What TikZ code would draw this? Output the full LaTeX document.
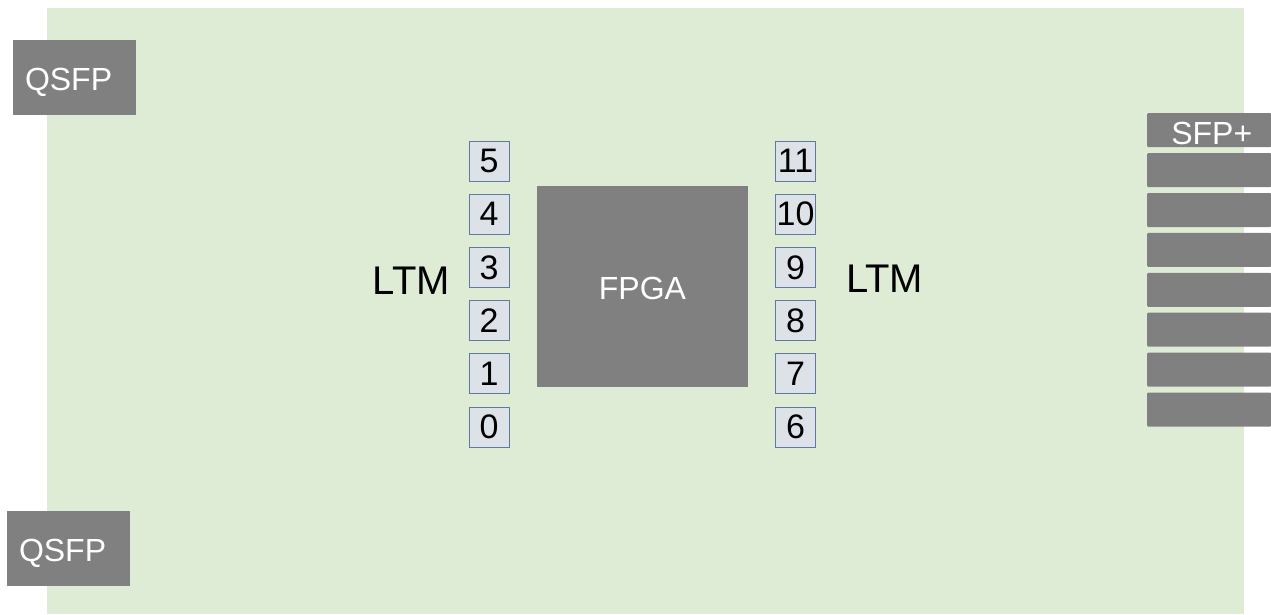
\documentclass[tikz,border=0pt]{standalone}
\usepackage{fontspec}
\setmainfont{Liberation Sans}
\usetikzlibrary{positioning}
\definecolor{BoardGreen}{RGB}{223,236,213}
\definecolor{ChipGray}{RGB}{128,128,128}
\definecolor{PinFill}{RGB}{221,225,232}
\definecolor{PinEdge}{RGB}{96,122,158}
\tikzset{
  hw/chip/.style={
    fill=ChipGray,
    draw=none,
    text=white,
    align=center,
    inner sep=0pt,
    font=\fontsize{32}{32}\selectfont
  },
  hw/cage/.style={
    fill=ChipGray,
    draw=none,
    rounded corners=1pt,
    anchor=north west,
    minimum width=124pt,
    minimum height=34pt,
    inner sep=0pt
  },
  hw/pin/.style={
    fill=PinFill,
    draw=PinEdge,
    line width=1pt,
    minimum size=40pt,
    inner sep=0pt,
    font=\fontsize{34}{34}\selectfont
  },
  hw/label/.style={font=\fontsize{40}{40}\selectfont, inner sep=0pt}
}
\begin{document}
\begin{tikzpicture}[x=1pt,y=-1pt]
  \useasboundingbox (0,0) rectangle (1271,614);
  % board
  \fill[BoardGreen] (47,8) rectangle (1244,614);
  % QSFP cages
  \node[hw/chip,minimum width=123pt,minimum height=75pt] (qsfpTop) at (74.5,77.5) {};
  \node[hw/chip,anchor=west] at ([xshift=12pt,yshift=-5pt]qsfpTop.west) {QSFP};
  \node[hw/chip,minimum width=123pt,minimum height=75pt] (qsfpBot) at (68.5,548.5) {};
  \node[hw/chip,anchor=west] at ([xshift=12pt,yshift=-5pt]qsfpBot.west) {QSFP};
  % SFP+ cages
  \foreach \i in {0,...,7}
    \node[hw/cage] (sfp\i) at (1147,{113+39.9*\i}) {};
  \node[hw/chip,fill=none,anchor=east] at ([xshift=-19pt,yshift=-3pt]sfp0.east) {SFP+};
  % FPGA
  \node[hw/chip,minimum width=211pt,minimum height=201pt] (fpga) at (642.5,286.5) {};
  \node[hw/chip] at ([yshift=-2pt]fpga.center) {FPGA};
  % LTM connectors
  \foreach \i in {0,...,5}
    \node[hw/pin] (ltm\i) at (489,{427-53.2*\i}) {\i};
  \foreach \i in {6,...,11}
    \node[hw/pin] (ltm\i) at (795.5,{427-53.2*(\i-6)}) {\i};
  \node[hw/label,anchor=east] (ltmL) at (450,281) {LTM};
  \node[hw/label,anchor=west] (ltmR) at (846,279) {LTM};
\end{tikzpicture}
\end{document}
